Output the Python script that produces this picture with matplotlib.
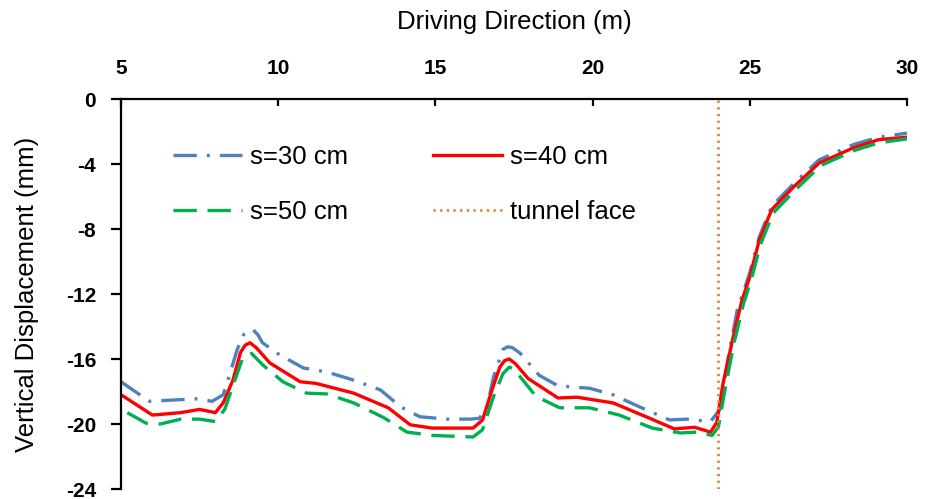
import matplotlib
matplotlib.use('Agg')
from matplotlib import pyplot as plt

# distance along the drive (m) and vertical displacement (mm) for each spacing
x_30 = [5.0, 5.6, 5.9, 6.9, 7.4, 7.9, 8.25, 8.4, 8.7, 8.9, 9.05, 9.2, 9.35, 9.5,
        10.05, 10.8, 11.55, 12.4, 13.25, 13.9, 14.5, 15.35, 16.1, 16.4, 16.65,
        16.85, 17.15, 17.3, 17.45, 17.7, 18.3, 18.9, 19.9, 20.65, 21.5, 22.45,
        23.0, 23.75, 24.05, 24.3, 24.6, 25.0, 25.3, 25.7, 26.4, 27.2, 28.3, 29.1,
        30.0]
y_30 = [-17.4, -18.2, -18.6, -18.5, -18.45, -18.6, -18.2, -17.3, -15.4, -14.5,
        -14.25, -14.2, -14.5, -15.0, -15.75, -16.55, -16.8, -17.3, -17.9, -18.95,
        -19.55, -19.7, -19.7, -19.65, -18.9, -17.1, -15.4, -15.25, -15.3, -15.65,
        -17.0, -17.65, -17.8, -18.2, -18.95, -19.75, -19.7, -19.85, -19.1, -16.05,
        -13.0, -10.7, -8.5, -6.6, -5.2, -3.75, -2.8, -2.35, -2.1]

x_40 = [5.0, 6.0, 6.9, 7.5, 8.0, 8.25, 8.56, 8.8, 8.95, 9.1, 9.3, 9.74, 10.7,
        11.2, 12.4, 13.5, 14.2, 14.9, 15.8, 16.2, 16.5, 16.8, 17.05, 17.2, 17.35,
        17.55, 17.95, 18.9, 19.5, 20.65, 21.7, 22.6, 23.25, 23.75, 23.95, 24.15,
        24.5, 24.75, 25.0, 25.3, 25.7, 26.4, 27.2, 28.3, 29.1, 30.0]
y_40 = [-18.2, -19.45, -19.3, -19.1, -19.3, -18.7, -17.3, -15.6, -15.15, -15.0,
        -15.3, -16.25, -17.4, -17.5, -18.1, -19.0, -20.05, -20.25, -20.25, -20.25,
        -19.75, -17.9, -16.5, -16.1, -16.0, -16.3, -17.2, -18.4, -18.35, -18.7,
        -19.55, -20.3, -20.2, -20.5, -19.9, -17.5, -14.4, -12.4, -10.95, -8.7,
        -6.8, -5.4, -3.95, -3.0, -2.5, -2.35]

x_50 = [5.2, 5.8, 6.25, 6.9, 7.5, 8.0, 8.3, 8.55, 8.85, 9.0, 9.15, 9.5, 10.15,
        10.9, 11.55, 12.4, 13.35, 14.1, 14.9, 16.2, 16.5, 16.85, 17.15, 17.35,
        17.5, 17.7, 18.2, 18.95, 19.9, 20.85, 21.9, 22.8, 23.3, 23.8, 24.0, 24.2,
        24.5, 24.8, 25.05, 25.35, 25.75, 26.45, 27.25, 28.35, 29.1, 30.0]
y_50 = [-19.3, -19.95, -20.0, -19.7, -19.7, -19.85, -19.1, -17.7, -16.05, -15.75,
        -15.65, -16.35, -17.4, -18.1, -18.15, -18.7, -19.6, -20.5, -20.7, -20.8,
        -20.35, -18.3, -16.9, -16.5, -16.6, -17.1, -18.3, -19.0, -19.0, -19.45,
        -20.25, -20.55, -20.5, -20.7, -20.2, -18.0, -15.0, -12.6, -11.1, -8.9,
        -7.0, -5.6, -4.1, -3.15, -2.7, -2.45]

face_x = 24.0

plt.rcParams['font.family'] = ['Liberation Sans', 'DejaVu Sans']
plt.rcParams['axes.unicode_minus'] = False

fig = plt.figure(figsize=(9.33, 4.99), dpi=100)
ax = fig.add_axes([0.1297, 0.02, 0.8424, 0.7816])

l30, = ax.plot(x_30, y_30, color='#4F81BD', lw=2.4, dashes=(7, 3, 0.9, 3), label='s=30 cm')
l40, = ax.plot(x_40, y_40, color='#FF0000', lw=2.4, label='s=40 cm')
l50, = ax.plot(x_50, y_50, color='#00B050', lw=2.4, dashes=(7, 3.2), label='s=50 cm')
lf = ax.axvline(face_x, color='#ED7D31', lw=2, linestyle=(0, (0.8, 1.6)), label='tunnel face')

ax.set_xlim(5, 30)
ax.set_ylim(-24, 0)
ax.set_xticks(range(5, 31, 5))
ax.set_yticks(range(-24, 1, 4))

ax.xaxis.tick_top()
ax.xaxis.set_label_position('top')
ax.spines['right'].set_visible(False)
ax.spines['bottom'].set_visible(False)
ax.spines['top'].set_linewidth(1.6)
ax.spines['left'].set_linewidth(1.6)
ax.tick_params(axis='x', direction='in', length=5, width=1.6, pad=15, labelsize=15)
ax.tick_params(axis='y', direction='out', length=7, width=1.6, pad=11, labelsize=15)
for lbl in ax.get_xticklabels() + ax.get_yticklabels():
    lbl.set_fontweight('bold')

ax.set_xlabel('Driving Direction (m)', fontsize=18.5, labelpad=22)
ax.set_ylabel('Vertical Displacement (mm)', fontsize=18.5, labelpad=19)

# two columns, filled column by column
ax.legend([l30, l50, l40, lf], ['s=30 cm', 's=50 cm', 's=40 cm', 'tunnel face'],
          ncol=2, frameon=False, fontsize=18.5, loc='upper left',
          bbox_to_anchor=(0.066, 0.882), borderaxespad=0, borderpad=0,
          handlelength=2.7, handletextpad=0.3, columnspacing=3.3,
          labelspacing=1.2)

plt.savefig('out.png', dpi=100)
